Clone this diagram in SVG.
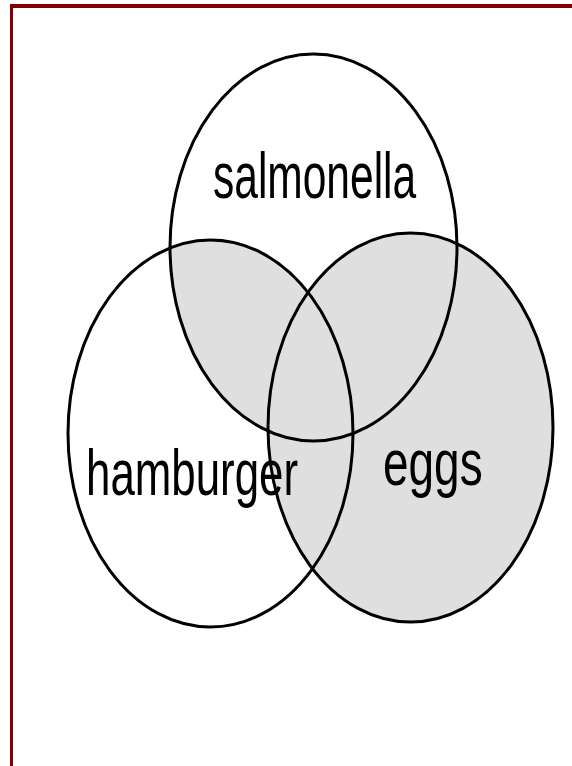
<svg xmlns="http://www.w3.org/2000/svg" width="572" height="766" viewBox="0 0 572 766">
<style>
.ring{fill:none;stroke:#000;stroke-width:3}
.shade{fill:#dfdfdf;stroke:none}
.lbl{font-family:"Liberation Sans",Arial,sans-serif;font-size:65px;fill:#000}
.frame{fill:#840000}
</style>
<defs>
<clipPath id="clipHam"><ellipse cx="210.5" cy="433.5" rx="142.5" ry="193.5"/></clipPath>
</defs>
<rect width="572" height="766" fill="#fff"/>
<g id="frame">
<rect class="frame" x="10" y="4" width="562" height="4"/>
<rect class="frame" x="10" y="4" width="3" height="762"/>
</g>
<g id="shading">
<ellipse class="shade" cx="410.5" cy="427.5" rx="142.5" ry="194.5"/>
<ellipse class="shade" cx="313.5" cy="247.5" rx="143.5" ry="193.5" clip-path="url(#clipHam)"/>
</g>
<g id="salmonella">
<ellipse class="ring" cx="313.5" cy="247.5" rx="143.5" ry="193.5"/>
<text class="lbl" transform="translate(213,198) scale(0.654,1)" x="0" y="0">salmonella</text>
</g>
<g id="hamburger">
<ellipse class="ring" cx="210.5" cy="433.5" rx="142.5" ry="193.5"/>
<text class="lbl" transform="translate(86,495) scale(0.675,1)" x="0" y="0">hamburger</text>
</g>
<g id="eggs">
<ellipse class="ring" cx="410.5" cy="427.5" rx="142.5" ry="194.5"/>
<text class="lbl" transform="translate(383,485) scale(0.707,1)" x="0" y="0" font-size="62">eggs</text>
</g>
</svg>
